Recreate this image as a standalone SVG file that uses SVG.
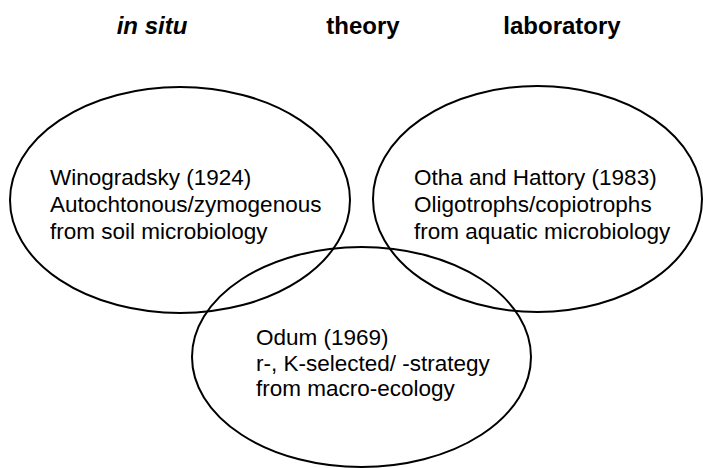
<svg xmlns="http://www.w3.org/2000/svg" width="703" height="468" viewBox="0 0 703 468">
<style>
.bg{fill:#ffffff}
.ell{fill:none;stroke:#000;stroke-width:2}
.hd{font-family:"Liberation Sans",Arial,sans-serif;font-size:24px;font-weight:bold;fill:#000;text-anchor:middle}
.t{font-family:"Liberation Sans",Arial,sans-serif;font-size:22.5px;fill:#000}
</style>
<rect class="bg" x="0" y="0" width="703" height="468"/>
<g id="headers">
<text class="hd" x="152" y="34" font-style="italic">in situ</text>
<text class="hd" x="363" y="34">theory</text>
<text class="hd" x="562" y="34">laboratory</text>
</g>
<g id="node-winogradsky">
<ellipse class="ell" cx="180" cy="200" rx="170" ry="113"/>
<text class="t" x="50" y="185">Winogradsky (1924)</text>
<text class="t" x="50" y="212">Autochtonous/zymogenous</text>
<text class="t" x="50" y="239">from soil microbiology</text>
</g>
<g id="node-otha">
<ellipse class="ell" cx="537.5" cy="199" rx="164.5" ry="113"/>
<text class="t" x="414" y="185">Otha and Hattory (1983)</text>
<text class="t" x="414" y="212">Oligotrophs/copiotrophs</text>
<text class="t" x="414" y="239">from aquatic microbiology</text>
</g>
<g id="node-odum">
<ellipse class="ell" cx="361.5" cy="357" rx="169.5" ry="110"/>
<text class="t" x="256" y="345">Odum (1969)</text>
<text class="t" x="256" y="371">r-, K-selected/ -strategy</text>
<text class="t" x="256" y="396">from macro-ecology</text>
</g>
<g id="connectors"></g>
</svg>
